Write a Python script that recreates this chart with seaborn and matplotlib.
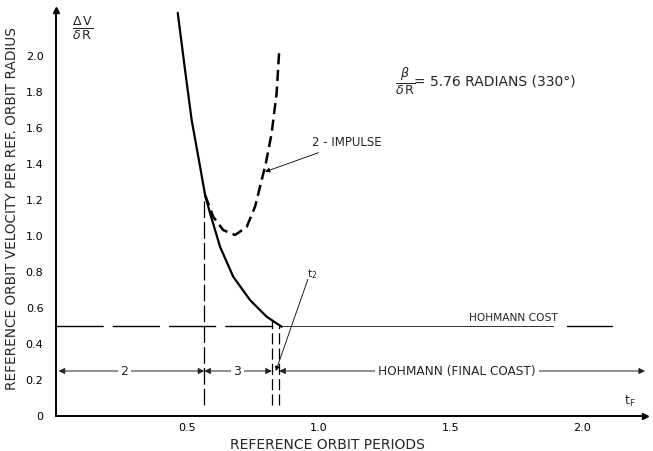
import matplotlib
matplotlib.use("Agg")
import matplotlib.pyplot as plt
import seaborn as sns
import pandas as pd

# ---- data ----
solid_t = [0.463, 0.491, 0.516, 0.548, 0.567, 0.586, 0.624, 0.674, 0.738, 0.801, 0.858]
solid_v = [2.24, 1.92, 1.644, 1.385, 1.228, 1.126, 0.94, 0.774, 0.644, 0.552, 0.496]

impulse_t = [0.567, 0.598, 0.636, 0.681, 0.725, 0.757, 0.782, 0.798, 0.820, 0.839, 0.849]
impulse_v = [1.228, 1.107, 1.033, 1.006, 1.05, 1.163, 1.31, 1.404, 1.57, 1.793, 2.033]

hohmann_cost = 0.5
phase_level = 0.25
t_switch1 = 0.564
t_switch2 = 0.821
t_switch3 = 0.849
t_end = 0.86

xticks = [0.5, 1.0, 1.5, 2.0]
xtick_labels = ["0.5", "1.0", "1.5", "2.0"]
yticks = [0, 0.2, 0.4, 0.6, 0.8, 1.0, 1.2, 1.4, 1.6, 1.8, 2.0]
ytick_labels = ["0", "0.2", "0.4", "0.6", "0.8", "1.0", "1.2", "1.4", "1.6", "1.8", "2.0"]

sns.set_style("white")
plt.rcParams["font.family"] = ["DejaVu Sans"]
plt.rcParams["lines.scale_dashes"] = False

fig = plt.figure(figsize=(6.53, 4.51), dpi=100)
ax = fig.add_axes([56 / 653, 35 / 451, 589 / 653, 406 / 451])
XMAX, YMAX = 2.24, 2.256
ax.set_xlim(0, XMAX)
ax.set_ylim(0, YMAX)

df_s = pd.DataFrame({"t": solid_t, "v": solid_v})
df_i = pd.DataFrame({"t": impulse_t, "v": impulse_v})
sns.lineplot(data=df_s, x="t", y="v", ax=ax, color="black", lw=1.6, sort=False)
n_before = len(ax.lines)
sns.lineplot(data=df_i, x="t", y="v", ax=ax, color="black", lw=1.8, sort=False)
for ln in ax.lines[n_before:]:
    ln.set_linestyle((0, (8.0, 4.0)))

# Hohmann cost line
ax.plot([0, t_end], [hohmann_cost] * 2, color="black", lw=1.0, linestyle=(0, (34, 6.5)))
ax.plot([t_end, 1.89], [hohmann_cost] * 2, color="#333333", lw=0.7)
ax.plot([1.942, 2.113], [hohmann_cost] * 2, color="black", lw=1.0)
ax.text(1.74, hohmann_cost + 0.015, "HOHMANN COST", fontsize=7.7, ha="center", va="bottom")

# vertical dashed guide lines
ax.plot([t_switch1, t_switch1], [0.06, 1.22], color="black", lw=0.9, linestyle=(0, (12, 3)))
ax.plot([t_switch2, t_switch2], [0.06, 0.53], color="black", lw=0.9, linestyle=(0, (8, 3)))
ax.plot([t_switch3, t_switch3], [0.06, 0.50], color="black", lw=0.9, linestyle=(0, (8, 3)))

# phase arrows at 0.25
arrow_kw = dict(arrowstyle="<|-|>", color="#222222", lw=0.7, mutation_scale=9, shrinkA=0, shrinkB=0)
ax.annotate("", xy=(0.01, phase_level), xytext=(t_switch1, phase_level), arrowprops=arrow_kw)
ax.annotate("", xy=(t_switch1, phase_level), xytext=(t_switch2, phase_level), arrowprops=arrow_kw)
ax.annotate("", xy=(t_switch3, phase_level), xytext=(XMAX, phase_level), arrowprops=arrow_kw,
            annotation_clip=False)
box = dict(facecolor="white", edgecolor="none", pad=2)
ax.text(0.26, phase_level, "2", fontsize=9, ha="center", va="center", bbox=box)
ax.text(0.69, phase_level, "3", fontsize=9, ha="center", va="center", bbox=box)
ax.text(1.525, phase_level, "HOHMANN (FINAL COAST)", fontsize=8.7, ha="center", va="center", bbox=box)

# annotations
ax.annotate("2 - IMPULSE", xy=(0.795, 1.357), xytext=(0.975, 1.52), fontsize=8.5,
            ha="left", va="center",
            arrowprops=dict(arrowstyle="-|>", color="black", lw=0.6, mutation_scale=7, shrinkA=1, shrinkB=0))
ax.annotate("", xy=(0.836, 0.25), xytext=(0.958, 0.76),
            arrowprops=dict(arrowstyle="-|>", color="black", lw=0.6, mutation_scale=7, shrinkA=0, shrinkB=0))
ax.text(0.955, 0.79, r"$\mathrm{t}_{2}$", fontsize=8, ha="left", va="center")

ax.text(0.10, 2.155, r"$\frac{\Delta\,\mathrm{V}}{\delta\,\mathrm{R}}$", fontsize=13, ha="center", va="center")
ax.text(1.33, 1.86, r"$\frac{\beta}{\delta\,\mathrm{R}}$", fontsize=13, ha="center", va="center")
ax.text(1.36, 1.86, "= 5.76 RADIANS (330°)", fontsize=10, ha="left", va="center")
ax.text(2.16, 0.08, r"$\mathrm{t}_{\mathrm{F}}$", fontsize=9, ha="left", va="center")

# axes styling
sns.despine(ax=ax)
for s in ["left", "bottom"]:
    ax.spines[s].set_linewidth(1.4)
    ax.spines[s].set_color("black")
ax.plot(1, 0, ">k", transform=ax.transAxes, clip_on=False, markersize=5)
ax.plot(0, 1, "^k", transform=ax.transAxes, clip_on=False, markersize=5)

ax.set_xticks(xticks)
ax.set_xticklabels(xtick_labels, fontsize=8)
ax.set_yticks(yticks)
ax.set_yticklabels(ytick_labels, fontsize=8)
ax.tick_params(axis="x", direction="in", length=6, width=1.0, pad=5, colors="black")
ax.tick_params(axis="y", direction="in", length=5, width=1.0, pad=9, colors="black")
ax.set_xlabel("REFERENCE ORBIT PERIODS", fontsize=10)
ax.xaxis.set_label_coords((327 - 56) / 589, -0.055)
ax.set_ylabel("REFERENCE ORBIT VELOCITY PER REF. ORBIT RADIUS", fontsize=9.8)
ax.yaxis.set_label_coords(-0.062, 0.51)

fig.savefig("out.png", dpi=100)
